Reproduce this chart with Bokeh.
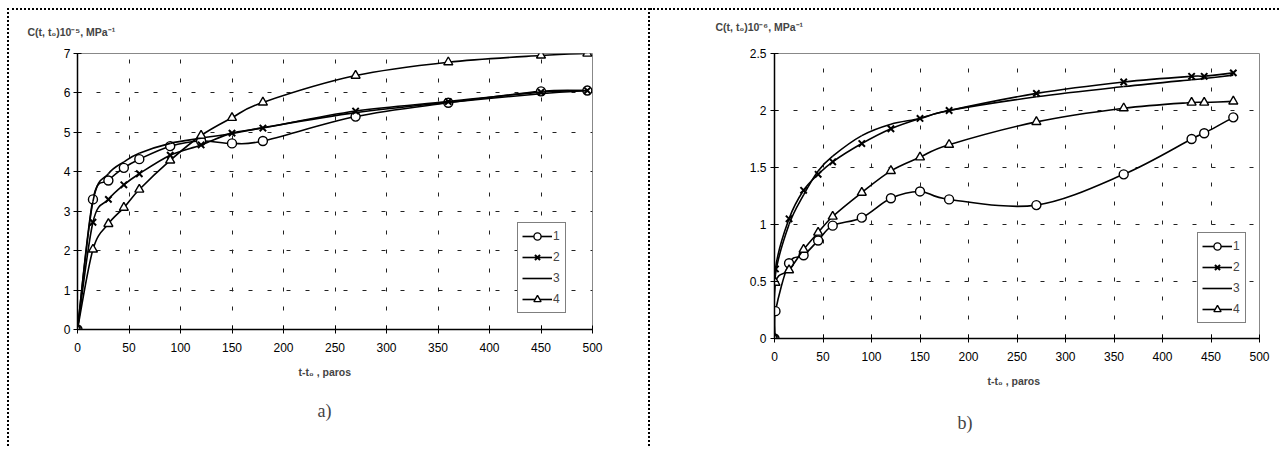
from bokeh.plotting import figure
from bokeh.layouts import row
from bokeh.models import Legend, LegendItem, FixedTicker, Range1d, Title
from bokeh.embed import file_html
from bokeh.resources import INLINE

# ---------------- data: panel a) ----------------
xa = [0, 15, 30, 45, 60, 90, 120, 150, 180, 270, 360, 450, 495]
a1 = [0, 3.3, 3.78, 4.1, 4.32, 4.65, 4.78, 4.72, 4.78, 5.4, 5.75, 6.04, 6.06]
a2 = [0, 2.72, 3.3, 3.67, 3.95, 4.42, 4.68, 4.98, 5.11, 5.54, 5.78, 6.02, 6.06]
a3 = [0, 3.25, 3.95, 4.25, 4.47, 4.72, 4.85, 4.97, 5.12, 5.5, 5.76, 5.98, 6.06]
a4 = [0, 2.03, 2.68, 3.09, 3.55, 4.29, 4.92, 5.37, 5.76, 6.44, 6.78, 6.95, 7.0]
xticks_a = [0, 50, 100, 150, 200, 250, 300, 350, 400, 450, 500]
yticks_a = [0, 1, 2, 3, 4, 5, 6, 7]

# ---------------- data: panel b) ----------------
xb = [0, 1, 15, 30, 45, 60, 90, 120, 150, 180, 270, 360, 430, 443, 473]
b1 = [0, 0.24, 0.66, 0.73, 0.86, 0.99, 1.06, 1.23, 1.29, 1.22, 1.17, 1.44, 1.75, 1.80, 1.94]
b2 = [0, 0.61, 1.05, 1.30, 1.44, 1.55, 1.71, 1.84, 1.93, 2.0, 2.15, 2.25, 2.30, 2.30, 2.33]
b3 = [0, 0.56, 1.0, 1.26, 1.47, 1.6, 1.78, 1.88, 1.93, 2.0, 2.12, 2.21, 2.27, 2.28, 2.31]
b4 = [0, 0.49, 0.6, 0.78, 0.93, 1.07, 1.28, 1.47, 1.59, 1.70, 1.90, 2.02, 2.07, 2.07, 2.08]
xticks_b = [0, 50, 100, 150, 200, 250, 300, 350, 400, 450, 500]
yticks_b = [0, 0.5, 1, 1.5, 2, 2.5]
ylabels_b = ["0", "0.5", "1", "1.5", "2", "2.5"]

series_names = ["1", "2", "3", "4"]
series_markers = ["circle", "x", None, "triangle"]

FONT = "Liberation Sans"


def smooth_segments(xs, ys):
    """Catmull-Rom style bezier segments through the data points (Excel smoothed line)."""
    n = len(xs)
    out = dict(x0=[], y0=[], x1=[], y1=[], cx0=[], cy0=[], cx1=[], cy1=[])
    for i in range(n - 1):
        im = i - 1 if i > 0 else i
        ip = i + 2 if i + 2 < n else i + 1
        out["x0"].append(xs[i]); out["y0"].append(ys[i])
        out["x1"].append(xs[i + 1]); out["y1"].append(ys[i + 1])
        out["cx0"].append(xs[i] + (xs[i + 1] - xs[im]) / 6.0)
        out["cy0"].append(ys[i] + (ys[i + 1] - ys[im]) / 6.0)
        out["cx1"].append(xs[i + 1] - (xs[ip] - xs[i]) / 6.0)
        out["cy1"].append(ys[i + 1] - (ys[ip] - ys[i]) / 6.0)
    return out


def make_panel(xs, ys_list, xticks, yticks, ymax, ylabels, ml, mt, fw, fh, mr, mb,
               styles, ytitle, ytitle_off, ytitle_stand, xtitle_off, xtitle_stand,
               panel_label, panel_off, panel_stand, legend_loc, ystand):
    p = figure(frame_width=fw, frame_height=fh, x_range=Range1d(0, 500), y_range=Range1d(0, ymax),
               output_backend="svg", toolbar_location=None,
               min_border_left=ml, min_border_top=mt, min_border_right=mr, min_border_bottom=mb)
    p.styles = styles
    p.background_fill_color = "white"
    p.border_fill_color = "white"
    p.outline_line_color = "#888888"
    p.outline_line_width = 1

    for ax, ticks in ((p.xaxis, xticks), (p.yaxis, yticks)):
        ax.ticker = FixedTicker(ticks=ticks)
        ax.axis_line_color = "black"
        ax.axis_line_width = 1.5
        ax.major_tick_line_color = "black"
        ax.major_tick_line_width = 1
        ax.major_tick_in = 4
        ax.major_tick_out = 4
        ax.minor_tick_line_color = None
        ax.major_label_text_font = FONT
        ax.major_label_text_font_size = "12px"
        ax.major_label_text_color = "black"
    p.xaxis.major_label_standoff = 9
    p.yaxis.major_label_standoff = ystand
    if ylabels is not None:
        p.yaxis.major_label_overrides = {t: l for t, l in zip(yticks, ylabels)}

    for g in (p.xgrid, p.ygrid):
        g.grid_line_color = "#222222"
        g.grid_line_width = 1
        g.grid_line_dash = "4 15"

    items = []
    for ys, name, mk in zip(ys_list, series_names, series_markers):
        seg = smooth_segments(xs, ys)
        rl = p.bezier(x0="x0", y0="y0", x1="x1", y1="y1", cx0="cx0", cy0="cy0", cx1="cx1", cy1="cy1",
                      source=seg, line_color="black", line_width=1.6)
        rends = [rl]
        if mk is not None:
            lw = 2.0 if mk == "x" else 1.4
            rm = p.scatter(xs, ys, marker=mk, size=9, line_color="black", line_width=lw,
                           fill_color="white")
            rends.append(rm)
        items.append(LegendItem(label=name, renderers=rends))

    leg = Legend(items=items, location=legend_loc)
    leg.label_text_font = FONT
    leg.label_text_font_size = "12px"
    leg.label_standoff = 1
    leg.glyph_width = 30
    leg.glyph_height = 18
    leg.label_height = 18
    leg.label_width = 8
    leg.spacing = 3
    leg.padding = 4
    leg.margin = 0
    leg.border_line_color = "black"
    leg.border_line_width = 1
    leg.background_fill_color = "white"
    leg.background_fill_alpha = 1
    p.add_layout(leg, "center")

    # y-axis title placed at the top-left (a blank second line lifts it off the frame)
    p.title.text = ytitle + "\n "
    p.title.align = "left"
    p.title.offset = ytitle_off
    p.title.standoff = ytitle_stand
    p.title.text_font = FONT
    p.title.text_font_size = "10.5px"
    p.title.text_font_style = "bold"

    p.add_layout(Title(text="t-t\u2080 , paros", align="left", offset=xtitle_off, standoff=xtitle_stand,
                       text_font=FONT, text_font_size="10.5px", text_font_style="bold"), "below")
    p.add_layout(Title(text=panel_label, align="left", offset=panel_off, standoff=panel_stand,
                       text_font="Liberation Serif", text_font_size="18px",
                       text_font_style="normal"), "below")
    return p


border = "2px dotted #000"
pa = make_panel(xa, [a1, a2, a3, a4], xticks_a, yticks_a, 7, None,
                68, 42, 511, 274, 60, 120,
                {"border-left": border, "border-top": border, "border-right": border},
                "C(t, t\u2080)10\u207b\u2075, MPa\u207b\u00b9", -50, 8, 221, 18,
                "a)", 240, 24, (440, 16), 3)
pb = make_panel(xb, [b1, b2, b3, b4], xticks_b, yticks_b, 2.5, ylabels_b,
                124, 42, 485, 283, 20, 113,
                {"border-top": border},
                "C(t, t\u2080)10\u207b\u2076, MPa\u207b\u00b9", -59, 17, 213, 18,
                "b)", 183, 31, (423, 15), 4)

layout = row(pa, pb, margin=(8, 0, 0, 7))
open("out.html", "w").write(file_html(layout, INLINE))
